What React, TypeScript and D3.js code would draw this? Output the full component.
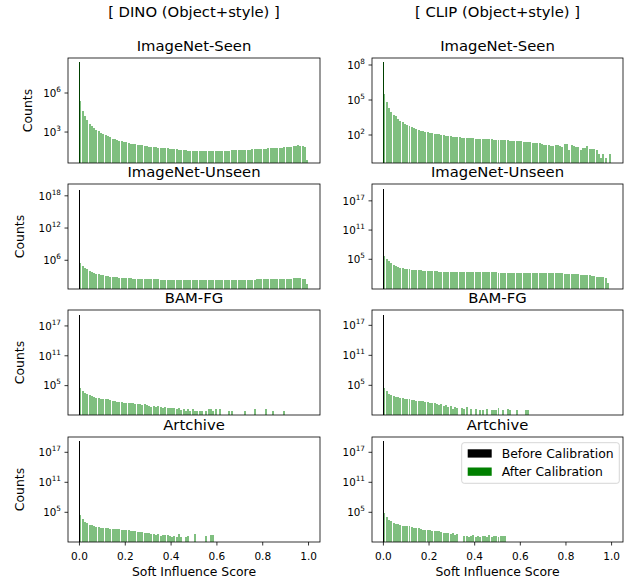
import React from "react";
import * as d3 from "d3";

// column titles / row titles
const models = ["[ DINO (Object+style) ]", "[ CLIP (Object+style) ]"];
const datasets = ["ImageNet-Seen", "ImageNet-Unseen", "BAM-FG", "Artchive"];
const seriesNames = ["Before Calibration", "After Calibration"];

// histogram: bins of width 0.01 starting at 0; values are log10(count), -1 = empty bin
// bins past the end of an array are empty
const binWidth = 0.01;

const dinoSeen = [
  5.4, 4.6, 4.2, 3.9, 3.6, 3.45, 3.3, 3.15, 3.05, 2.95,
  2.87, 2.78, 2.68, 2.6, 2.5, 2.45, 2.38, 2.32, 2.28, 2.22,
  2.2, 2.17, 2.1, 2.08, 2.05, 2.02, 2.0, 1.98, 1.95, 1.9,
  1.87, 1.85, 1.83, 1.82, 1.8, 1.78, 1.77, 1.75, 1.74, 1.72,
  1.7, 1.68, 1.66, 1.64, 1.62, 1.6, 1.6, 1.58, 1.57, 1.57,
  1.56, 1.55, 1.56, 1.55, 1.54, 1.55, 1.56, 1.54, 1.55, 1.56,
  1.55, 1.57, 1.56, 1.58, 1.57, 1.58, 1.6, 1.6, 1.61, 1.62,
  1.62, 1.63, 1.64, 1.65, 1.65, 1.66, 1.67, 1.68, 1.7, 1.7,
  1.71, 1.72, 1.74, 1.75, 1.76, 1.77, 1.78, 1.8, 1.8, 1.82,
  1.84, 1.85, 1.88, 1.9, 1.95, 1.98, 1.96, 1.9, 1.85, 0.85,
];
const clipSeen = [
  5.5, 4.8, 4.35, 4.0, 3.75, 3.6, 3.35, 3.2, 3.08, 2.98,
  2.9, 2.8, 2.72, 2.58, 2.5, 2.43, 2.38, 2.32, 2.28, 2.24,
  2.2, 2.18, 2.12, 2.08, 2.05, 2.02, 2.0, 1.95, 1.9, 1.88,
  1.86, 1.84, 1.82, 1.8, 1.78, 1.77, 1.76, 1.75, 1.74, 1.72,
  1.7, 1.7, 1.68, 1.66, 1.65, 1.64, 1.62, 1.62, 1.6, 1.6,
  1.58, 1.58, 1.57, 1.55, 1.55, 1.52, 1.5, 1.5, 1.48, 1.45,
  1.45, 1.42, 1.4, 1.4, 1.38, 1.35, 1.33, 1.32, 1.3, 1.2,
  1.15, 1.14, 1.12, 1.08, 1.1, 1.14, 1.18, 1.05, 0.95, 1.25,
  1.2, 0.72, 1.15, 1.1, 1.0, 1.0, 0.72, 0.9, 0.88, 1.05,
  0.82, 0.8, 0.78, 0.7, 0.34, 0.05, 0.34, 0.0, -1, 0.34,
];
const dinoUnseen = [
  5.4, 4.9, 4.6, 4.3, 4.05, 3.85, 3.65, 3.5, 3.38, 3.27,
  3.18, 3.1, 3.02, 2.95, 2.9, 2.86, 2.82, 2.78, 2.75, 2.72,
  2.7, 2.66, 2.63, 2.6, 2.58, 2.55, 2.53, 2.5, 2.48, 2.47,
  2.45, 2.44, 2.43, 2.42, 2.42, 2.41, 2.41, 2.4, 2.4, 2.4,
  2.39, 2.39, 2.38, 2.38, 2.38, 2.37, 2.38, 2.37, 2.37, 2.36,
  2.37, 2.36, 2.36, 2.37, 2.36, 2.36, 2.35, 2.36, 2.36, 2.35,
  2.36, 2.36, 2.37, 2.36, 2.37, 2.37, 2.38, 2.37, 2.38, 2.38,
  2.39, 2.38, 2.39, 2.4, 2.4, 2.4, 2.41, 2.42, 2.42, 2.43,
  2.44, 2.45, 2.46, 2.47, 2.48, 2.5, 2.51, 2.53, 2.55, 2.57,
  2.58, 2.6, 2.6, 2.62, 2.62, 2.63, 2.62, 2.6, 2.6, 1.57,
];
const clipUnseen = [
  5.6, 5.0, 4.6, 4.2, 3.85, 3.55, 3.35, 3.22, 3.12, 3.05,
  2.98, 2.93, 2.88, 2.84, 2.8, 2.76, 2.72, 2.68, 2.65, 2.62,
  2.6, 2.56, 2.53, 2.5, 2.47, 2.45, 2.42, 2.4, 2.4, 2.39,
  2.38, 2.38, 2.37, 2.36, 2.36, 2.35, 2.34, 2.34, 2.33, 2.33,
  2.32, 2.32, 2.31, 2.31, 2.3, 2.3, 2.3, 2.29, 2.29, 2.29,
  2.28, 2.28, 2.28, 2.27, 2.27, 2.27, 2.26, 2.26, 2.26, 2.25,
  2.25, 2.25, 2.24, 2.24, 2.23, 2.23, 2.22, 2.22, 2.2, 2.19,
  2.18, 2.17, 2.16, 2.15, 2.14, 2.13, 2.12, 2.1, 2.09, 2.08,
  2.07, 2.06, 2.05, 2.0, 1.95, 1.9, 1.85, 1.8, 1.76, 1.72,
  1.7, 1.65, 1.5, 1.4, 1.35, 1.4, 1.35, 1.2, 0.05, -1,
];
const dinoBam = [
  4.45, 3.9, 3.5, 3.25, 3.05, 2.85, 2.7, 2.55, 2.45, 2.38,
  2.32, 2.28, 2.22, 2.15, 2.0, 1.9, 1.8, 1.72, 1.65, 1.6,
  1.55, 1.5, 1.48, 1.45, 1.4, 1.3, 1.25, 1.2, 1.3, 1.15,
  0.95, 0.8, 0.85, 0.75, 0.9, 0.7, 0.6, 0.75, 0.5, 0.6,
  0.45, 0.5, 0.3, 0.45, 0.2, 0.3, 0.0, 0.3, 0.0, 0.3,
  0.0, 0.0, 0.0, 0.0, -1, 0.0, 0.3, 0.3, 0.0, 0.3,
  -1, 0.3, -1, -1, -1, 0.0, 0.0, -1, -1, -1,
  -1, -1, 0.0, -1, -1, -1, 0.3, -1, -1, -1,
  -1, 0.3, -1, -1, 0.0, -1, -1, -1, -1, 0.0,
];
const clipBam = [
  4.4, 3.8, 3.3, 3.0, 2.85, 2.7, 2.6, 2.55, 2.45, 2.3,
  2.25, 2.2, 2.15, 2.05, 1.95, 1.9, 1.85, 1.8, 1.75, 1.6,
  1.55, 1.5, 1.4, 1.2, 1.1, 1.3, 0.9, 1.0, 0.7, 0.8,
  0.3, 0.6, 0.5, -1, 0.5, 0.2, 0.6, -1, 0.3, -1,
  0.3, -1, 0.0, 0.0, -1, 0.3, -1, 0.0, 0.0, 0.0,
  0.45, -1, 0.0, -1, 0.3, 0.0, -1, -1, 0.0, -1,
  -1, -1, 0.0, 0.0,
];
const dinoArch = [
  4.4, 3.7, 3.1, 2.8, 2.55, 2.4, 2.2, 2.1, 2.05, 1.95,
  1.9, 1.88, 1.85, 1.75, 1.7, 1.68, 1.65, 1.6, 1.55, 1.45,
  1.42, 1.4, 1.35, 1.3, 1.25, 1.1, 1.05, 1.0, 0.95, 0.8,
  0.9, 0.6, 0.75, 0.45, 0.6, 0.3, 0.5, 0.4, 0.45, 0.3,
  0.0, 0.3, 0.0, 0.6, 0.0, -1, 0.0, 0.3, -1, -1,
  0.6, -1, -1, -1, -1, 0.3, -1, 0.45, 0.5,
];
const clipArch = [
  4.9, 4.1, 3.5, 3.2, 2.95, 2.7, 2.6, 2.5, 2.35, 2.3,
  2.25, 2.2, 2.1, 1.9, 1.85, 1.8, 1.75, 1.55, 1.5, 1.45,
  1.4, 1.3, 1.28, 1.25, 1.2, 1.0, 0.95, 0.9, 0.85, 0.6,
  0.8, 0.5, 0.6, -1, -1, 0.3, 0.3, 0.0, 0.3, 0.5,
  0.0, 0.3, 0.0, 0.3, 0.3, 0.0, 0.5, 0.0, 0.3, 0.3,
  0.0, 0.3, 0.3, 0.3,
];

const afterCounts = [
  [dinoSeen, dinoUnseen, dinoBam, dinoArch],
  [clipSeen, clipUnseen, clipBam, clipArch],
];
// before calibration: everything sits at 0 (log10 of the spike height)
const beforeSpike = [
  [8.4, 19.05, 19.2, 19.26],
  [8.26, 19.38, 19.06, 19.26],
];
// after calibration also keeps a spike at 0 in the seen split
const afterSpike = [
  [8.4, null, null, null],
  [8.26, null, null, null],
];
// y limits (log10)
const yLimits = [
  [[0.62, 8.69], [0.65, 20.2], [-0.9, 20.2], [-0.94, 20.06]],
  [[-0.4, 8.6], [-1.1, 20.46], [-0.94, 20.07], [-0.94, 20.06]],
];
const yTicks = [
  [[3, 6], [6, 12, 18], [5, 11, 17], [5, 11, 17]],
  [[2, 5, 8], [5, 11, 17], [5, 11, 17], [5, 11, 17]],
];
const xTicks = [0, 0.2, 0.4, 0.6, 0.8, 1.0];
const xLabel = "Soft Influence Score";
const yLabel = "Counts";

const W = 632;
const H = 581;
const colX = [[68, 320], [372, 623]];
const rowTop = [58, 184, 310, 437];
const panelH = 105;
const font = "DejaVu Sans, sans-serif";
const green = "#008000";

function Panel({ c, r }: { c: number; r: number }) {
  const [x0, x1] = colX[c];
  const top = rowTop[r];
  const bottom = top + panelH;
  const x = d3.scaleLinear().domain([-0.05, 1.05]).range([x0, x1]);
  const [lo, hi] = yLimits[c][r];
  const y = d3.scaleLog().domain([10 ** lo, 10 ** hi]).range([bottom, top]);
  const bw = x(binWidth) - x(0);
  const bars = afterCounts[c][r]
    .map((v, i) => ({ v, i }))
    .filter((d) => d.v >= 0);
  const spikeW = x(0.0038) - x(-0.0038);
  const maxDigits = d3.max(yTicks[0][r].map((t) => String(t).length)) as number;
  const isBottom = r === rowTop.length - 1;
  const spikeA = afterSpike[c][r];
  return (
    <g>
      <text x={(x0 + x1) / 2} y={top - 7.5} textAnchor="middle" fontSize={14.8} fontFamily={font}>
        {datasets[r]}
      </text>
      <g shapeRendering="crispEdges">
        {bars.map((d) => (
          <rect
            key={d.i}
            x={x(d.i * binWidth)}
            width={bw - 0.3}
            y={y(10 ** d.v)}
            height={bottom - y(10 ** d.v)}
            fill={green}
            fillOpacity={0.5}
          />
        ))}
        <rect
          x={x(0) - spikeW / 2}
          width={spikeW}
          y={y(10 ** beforeSpike[c][r])}
          height={bottom - y(10 ** beforeSpike[c][r])}
          fill="#000"
        />
        {spikeA !== null && (
          <rect
            x={x(0) - spikeW / 2}
            width={spikeW}
            y={y(10 ** spikeA)}
            height={bottom - y(10 ** spikeA)}
            fill={green}
            fillOpacity={0.5}
          />
        )}
      </g>
      <rect x={x0} y={top} width={x1 - x0} height={panelH} fill="none" stroke="#000" strokeWidth={0.8} />
      {yTicks[c][r].map((t) => (
        <g key={t} transform={`translate(${x0},${y(10 ** t)})`}>
          <line x1={-3.5} x2={0} stroke="#000" strokeWidth={0.8} />
          <text x={-7} y={3.8} textAnchor="end" fontSize={10.3} fontFamily={font} fill="#000">
            10
            <tspan dy={-5} fontSize={7.3}>
              {t}
            </tspan>
          </text>
        </g>
      ))}
      {isBottom &&
        xTicks.map((t) => (
          <g key={t} transform={`translate(${x(t)},${bottom})`}>
            <line y1={0} y2={3.5} stroke="#000" strokeWidth={0.8} />
            <text y={17.5} textAnchor="middle" fontSize={10.5} fontFamily={font}>
              {d3.format(".1f")(t)}
            </text>
          </g>
        ))}
      {c === 0 && (
        <text
          transform={`translate(${39.4 - 7.7 * maxDigits},${(top + bottom) / 2}) rotate(-90)`}
          textAnchor="middle"
          fontSize={12.4}
          fontFamily={font}
        >
          {yLabel}
        </text>
      )}
      {isBottom && (
        <text x={(x0 + x1) / 2} y={bottom + 33.5} textAnchor="middle" fontSize={12.4} fontFamily={font}>
          {xLabel}
        </text>
      )}
    </g>
  );
}

function Legend() {
  const lx = 461.7;
  const ly = 442.7;
  const colors = ["#000", green];
  return (
    <g>
      <rect x={lx} y={ly} width={157.6} height={40.6} rx={2.5} fill="#fff" fillOpacity={0.8} stroke="#cccccc" strokeWidth={0.8} />
      {seriesNames.map((s, i) => (
        <g key={s} transform={`translate(${lx + 6},${ly + 6.6 + i * 18.2})`}>
          <rect width={24} height={8.3} fill={colors[i]} />
          <text x={34} y={8.2} fontSize={12.4} fontFamily={font}>
            {s}
          </text>
        </g>
      ))}
    </g>
  );
}

export default function App() {
  return (
    <svg width={W} height={H} style={{ position: "absolute", left: 0, top: 0, background: "#fff" }}>
      {models.map((m, c) => (
        <text key={m} x={(colX[c][0] + colX[c][1]) / 2} y={16.5} textAnchor="middle" fontSize={14.8} fontFamily={font}>
          {m}
        </text>
      ))}
      {models.map((_, c) => datasets.map((_, r) => <Panel key={`${c}-${r}`} c={c} r={r} />))}
      <Legend />
    </svg>
  );
}
